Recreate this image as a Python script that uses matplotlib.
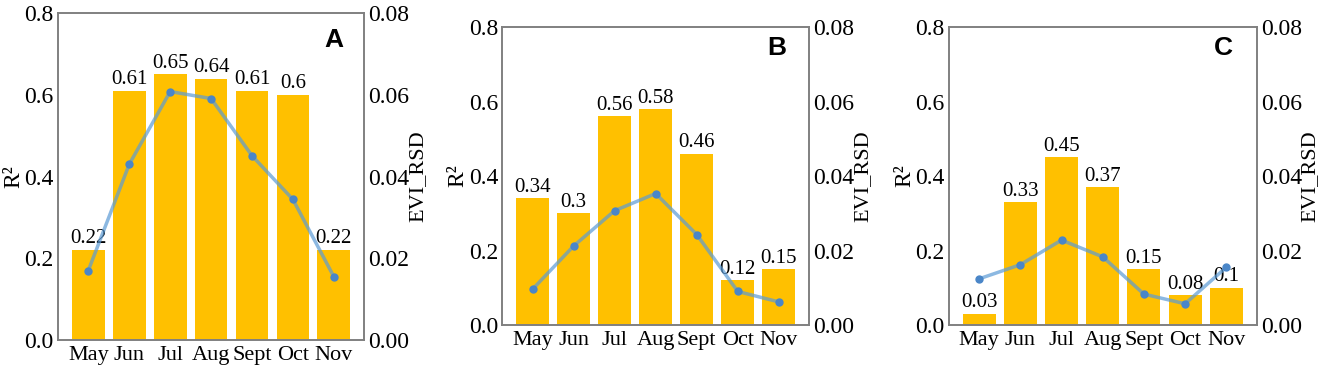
import matplotlib.pyplot as plt
import numpy as np

months = ["May", "Jun", "Jul", "Aug", "Sept", "Oct", "Nov"]

# R2 bars per panel
r2_a = [0.22, 0.61, 0.65, 0.64, 0.61, 0.60, 0.22]
r2_b = [0.34, 0.30, 0.56, 0.58, 0.46, 0.12, 0.15]
r2_c = [0.03, 0.33, 0.45, 0.37, 0.15, 0.08, 0.10]

# EVI_RSD line per panel
rsd_a = [0.0170, 0.0430, 0.0608, 0.0591, 0.0451, 0.0344, 0.0155]
rsd_b = [0.0096, 0.0212, 0.0307, 0.0353, 0.0243, 0.0090, 0.0062]
rsd_c = [0.0124, 0.0162, 0.0228, 0.0183, 0.0083, 0.0057, 0.0155]

panel_names = ["A", "B", "C"]

plt.rcParams['font.family'] = ['Liberation Serif', 'DejaVu Serif']

BAR_COLOR = "#FFC000"
LINE_COLOR = "#5B9BD5"
SPINE_COLOR = "#808080"

fig = plt.figure(figsize=(13.25, 3.71), dpi=100)

positions = [
    [0.0438, 0.0836, 0.2310, 0.881],
    [0.3790, 0.1240, 0.2317, 0.803],
    [0.7160, 0.1240, 0.2325, 0.803],
]
label_pos = [(0.90, 0.918), (0.894, 0.93), (0.89, 0.93)]

for pos, r2, rsd, name, lp in zip(positions, [r2_a, r2_b, r2_c],
                                  [rsd_a, rsd_b, rsd_c], panel_names, label_pos):
    ax = fig.add_axes(pos)
    x = np.arange(len(months))
    bars = ax.bar(x, r2, width=0.8, color=BAR_COLOR)
    for b, v in zip(bars, r2):
        ax.text(b.get_x() + b.get_width() / 2, v + 0.004, f"{v:g}",
                ha="center", va="bottom", fontsize=15)
    ax.set_ylim(0, 0.8)
    ax.set_yticks([0.0, 0.2, 0.4, 0.6, 0.8])
    ax.set_xticks(x)
    ax.set_xticklabels(months, fontsize=16)
    ax.tick_params(axis="y", labelsize=17, length=0, pad=3)
    ax.tick_params(axis="x", length=0, pad=4)
    ax.set_ylabel("R²", fontsize=17, labelpad=0)
    for s in ax.spines.values():
        s.set_color(SPINE_COLOR)
        s.set_linewidth(1.2)

    ax2 = ax.twinx()
    ax2.plot(x, rsd, color=LINE_COLOR, alpha=0.7, linewidth=2.5, zorder=3)
    ax2.plot(x, rsd, "o", color="#4A86C8", markersize=5, zorder=4)
    ax2.set_ylim(0, 0.08)
    ax2.set_yticks([0.0, 0.02, 0.04, 0.06, 0.08])
    ax2.set_yticklabels(["0.00", "0.02", "0.04", "0.06", "0.08"])
    ax2.tick_params(axis="y", labelsize=17, length=0, pad=3)
    ax2.set_ylabel("EVI_RSD", fontsize=16, labelpad=-1)
    for s in ax2.spines.values():
        s.set_color(SPINE_COLOR)
        s.set_linewidth(1.2)

    ax.text(lp[0], lp[1], name, transform=ax.transAxes, ha="center", va="center",
            fontsize=19, fontweight="bold", family=["Liberation Sans", "DejaVu Sans"])

fig.savefig("out.png", dpi=100)
